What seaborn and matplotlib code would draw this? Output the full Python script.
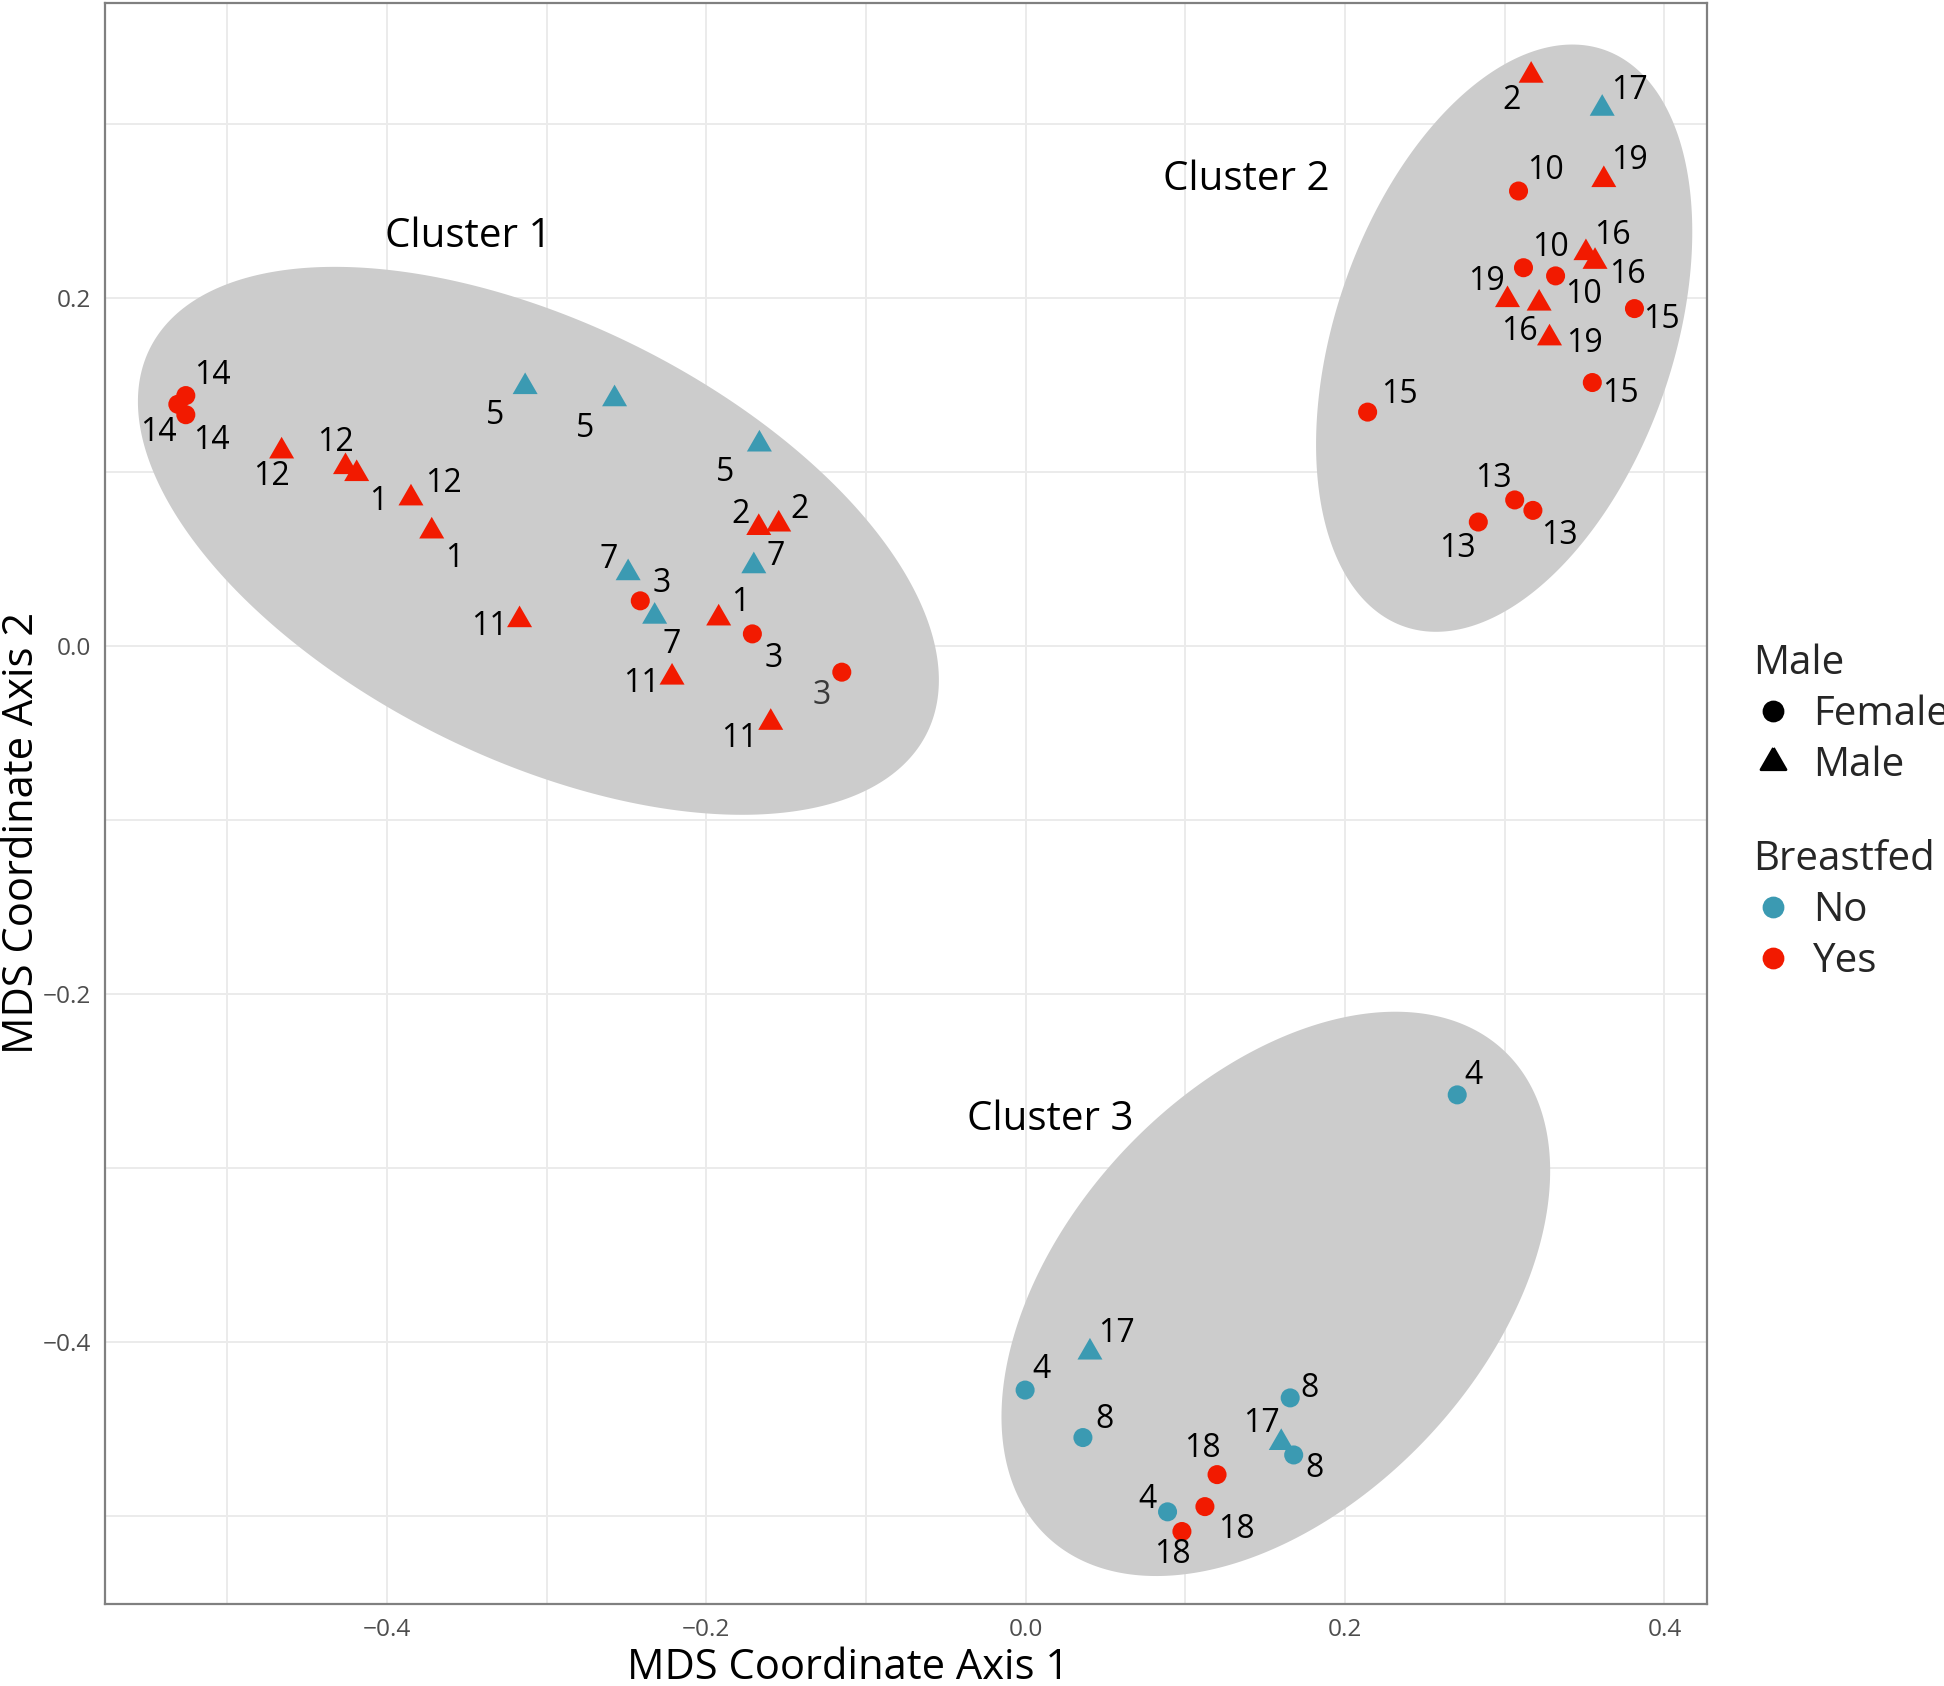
import numpy as np
import pandas as pd
import matplotlib
matplotlib.use("Agg")
import matplotlib.pyplot as plt
from matplotlib.lines import Line2D
from matplotlib.ticker import FuncFormatter
import seaborn as sns

# ---------------- data ----------------
mds_x = [-0.526, -0.531, -0.526, -0.466, -0.426, -0.419, -0.385, -0.372,
         -0.3135, -0.2575, -0.1668, -0.1672, -0.1547, -0.249, -0.1703, -0.2324,
         -0.2414, -0.1712, -0.1152, -0.1923, -0.317, -0.2215, -0.1597,
         0.3165, 0.361, 0.3086, 0.362, 0.3508, 0.3565, 0.3117, 0.3318, 0.3017,
         0.3215, 0.328, 0.3812, 0.3548, 0.2141, 0.3062, 0.3176, 0.2834,
         0.2702, 0.0402, -0.0004, 0.0358, 0.1656, 0.160, 0.1678, 0.1198,
         0.1122, 0.0888, 0.0978]
mds_y = [0.144, 0.139, 0.133, 0.112, 0.103, 0.099, 0.085, 0.066,
         0.149, 0.142, 0.116, 0.068, 0.070, 0.042, 0.046, 0.017,
         0.026, 0.007, -0.015, 0.016, 0.015, -0.018, -0.044,
         0.328, 0.309, 0.2616, 0.268, 0.226, 0.221, 0.2175, 0.2128, 0.199,
         0.197, 0.177, 0.194, 0.1515, 0.1345, 0.084, 0.078, 0.0713,
         -0.258, -0.406, -0.4277, -0.455, -0.4322, -0.458, -0.465, -0.4763,
         -0.4947, -0.4977, -0.509]
subject = [14, 14, 14, 12, 12, 1, 12, 1,
           5, 5, 5, 2, 2, 7, 7, 7,
           3, 3, 3, 1, 11, 11, 11,
           2, 17, 10, 19, 16, 16, 10, 10, 19,
           16, 19, 15, 15, 15, 13, 13, 13,
           4, 17, 4, 8, 8, 17, 8, 18,
           18, 4, 18]
sex = ["Female"] * 3 + ["Male"] * 13 + ["Female"] * 3 + ["Male"] * 4 + \
      ["Male", "Male", "Female", "Male", "Male", "Male", "Female", "Female", "Male",
       "Male", "Male", "Female", "Female", "Female", "Female", "Female", "Female"] + \
      ["Female", "Male", "Female", "Female", "Female", "Male", "Female", "Female",
       "Female", "Female", "Female"]
breastfed = ["Yes"] * 8 + ["No"] * 3 + ["Yes"] * 2 + ["No"] * 3 + ["Yes"] * 7 + \
            ["Yes", "No"] + ["Yes"] * 15 + \
            ["No"] * 7 + ["Yes", "Yes", "No", "Yes"]

# cluster ellipses: centre, half-extent in x / y, phase
cluster_names = ["Cluster 1", "Cluster 2", "Cluster 3"]
ell_cx = [-0.3052, 0.2996, 0.1566]
ell_cy = [0.0605, 0.1770, -0.3724]
ell_rx = [0.2508, 0.1178, 0.1718]
ell_ry = [0.1575, 0.1688, 0.1622]
ell_phase = [2.104, 1.200, 1.120]
cluster_label_x = [-0.349, 0.1384, 0.0155]
cluster_label_y = [0.2352, 0.268, -0.2723]

# label offsets in reference display px (right, down)
label_offsets = [(21.5, -16), (-15.6, 22.4), (20.7, 20.8), (-8, 20), (-8, -20), (17.5, 22.3),
                 (26, -12), (18, 22), (-24, 23), (-24, 24), (-28, 23), (-15, -11), (17, -12),
                 (-16, -11), (18, -8), (13.5, 22.6), (17.5, -14), (17.5, 19.6), (-16.4, 18.8),
                 (17.8, -12.6), (-24, 5), (-25, 5), (-25, 12.6),
                 (-16, 20), (21.6, -14.4), (21.6, -16.4), (21, -15.5), (21.6, -14.4), (26, 10.7),
                 (21.6, -16.4), (22.7, 15), (-16.7, -15), (-16, 23), (28, 4.3), (22, 8.6),
                 (23, 8.6), (26, -14.4), (-17, -17), (21, 20.4), (-16.7, 21.6),
                 (13.3, -15.8), (21.6, -15.5), (13, -16.4), (17.5, -14.3), (15.9, -7.2),
                 (-15.9, -15.5), (17, 11), (-11.8, -20.9), (25.4, 18.8), (-15.9, -9.6),
                 (-7.3, 18.5)]

df = pd.DataFrame({"x": mds_x, "y": mds_y, "subject": subject,
                   "Male": sex, "Breastfed": breastfed})

# ---------------- style ----------------
sns.set_theme(style="white")
plt.rcParams["font.family"] = ["Open Sans", "DejaVu Sans"]
plt.rcParams["axes.unicode_minus"] = True

TEAL = "#3B9AB2"
RED = "#F21A00"
palette = {"No": TEAL, "Yes": RED}

tri_verts = [(0, 1.1547), (-1, -0.57735), (1, -0.57735), (0, 1.1547)]
markers = {"Female": "o", "Male": tri_verts}

DPI = 200
fig = plt.figure(figsize=(1944 / DPI, 1686 / DPI), dpi=DPI)
ax = fig.add_axes([105 / 1944, 1 - 1604.3 / 1686, (1707.3 - 105) / 1944, (1604.3 - 2.7) / 1686])

# ellipses
t = np.linspace(0, 2 * np.pi, 400)
for cx, cy, rx, ry, ph in zip(ell_cx, ell_cy, ell_rx, ell_ry, ell_phase):
    ax.fill(cx + rx * np.cos(t), cy + ry * np.cos(t - ph), color="#CCCCCC", lw=0, zorder=1)

sns.scatterplot(data=df, x="x", y="y", hue="Breastfed", style="Male", size="Male",
                sizes={"Female": 47, "Male": 108}, markers=markers, palette=palette,
                linewidth=0, legend=False, ax=ax, zorder=3)

# point labels
px2pt = 1.2398 * 72 / DPI
for i, (xx, yy, s) in enumerate(zip(mds_x, mds_y, subject)):
    dx, dy = label_offsets[i]
    col = "#3a3a3a" if i == 18 else "black"
    ax.annotate(str(s), (xx, yy), xytext=(dx * px2pt, -dy * px2pt), textcoords="offset points",
                ha="center", va="center", fontsize=11.5, color=col, zorder=4)

for name, lx, ly in zip(cluster_names, cluster_label_x, cluster_label_y):
    ax.text(lx, ly, name, ha="center", va="center", fontsize=14.5, color="black", zorder=4)

# limits with 5% expansion
xr = max(mds_x) - min(mds_x)
yr = max(mds_y) - min(mds_y)
ax.set_xlim(min(mds_x) - 0.05 * xr, max(mds_x) + 0.05 * xr)
ax.set_ylim(min(mds_y) - 0.05 * yr, max(mds_y) + 0.05 * yr)

ax.set_xticks([-0.4, -0.2, 0.0, 0.2, 0.4])
ax.set_xticks([-0.5, -0.3, -0.1, 0.1, 0.3], minor=True)
ax.set_yticks([-0.4, -0.2, 0.0, 0.2])
ax.set_yticks([-0.5, -0.3, -0.1, 0.1, 0.3], minor=True)
fmt = FuncFormatter(lambda v, p: ("%.1f" % v).replace("-", "\u2212"))
ax.xaxis.set_major_formatter(fmt)
ax.yaxis.set_major_formatter(fmt)
ax.tick_params(which="both", length=0, labelsize=8.8, labelcolor="#4D4D4D", pad=5)
ax.grid(True, which="both", color="#EBEBEB", lw=0.7)
ax.set_axisbelow(True)
for sp in ax.spines.values():
    sp.set_color("#808080")
    sp.set_linewidth(0.8)
    sp.set_visible(True)

ax.set_xlabel("")
ax.set_ylabel("")
fig.text(627 / 1944, 1 - 1667.6 / 1686, "MDS Coordinate Axis 1", ha="left", va="center",
         fontsize=15, color="black")
fig.text(22.3 / 1944, 1 - 1054 / 1686, "MDS Coordinate Axis 2", ha="center", va="bottom",
         rotation=90, fontsize=15, color="black")

# legends
tri_ms = 10.4
h_sex = [Line2D([], [], ls="", marker="o", color="black", markersize=6.84),
         Line2D([], [], ls="", marker=tri_verts, color="black", markersize=tri_ms)]
h_bf = [Line2D([], [], ls="", marker="o", color=TEAL, markersize=6.84),
        Line2D([], [], ls="", marker="o", color=RED, markersize=6.84)]
common = dict(loc="upper left", frameon=False, fontsize=14.5, title_fontsize=14.5,
              handlelength=1.0, handletextpad=0.5, labelspacing=0.25, borderpad=0,
              borderaxespad=0, alignment="left")
leg1 = fig.legend(h_sex, ["Female", "Male"], title="Male",
                  bbox_to_anchor=(1753 / 1944, 1 - 644 / 1686), **common)
leg2 = fig.legend(h_bf, ["No", "Yes"], title="Breastfed",
                  bbox_to_anchor=(1753 / 1944, 1 - 840 / 1686), **common)

fig.savefig("out.png", dpi=DPI)
